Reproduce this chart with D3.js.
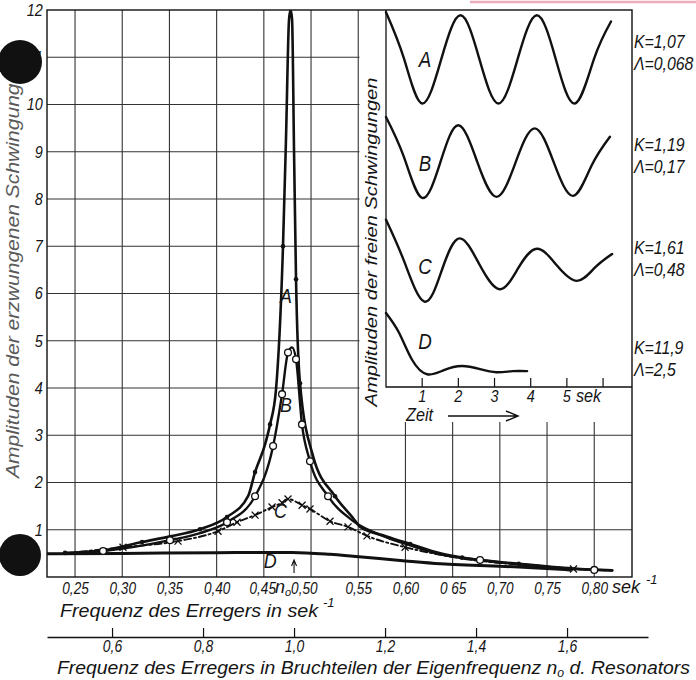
<!DOCTYPE html>
<html>
<head>
<meta charset="utf-8">
<script src="https://cdn.jsdelivr.net/npm/d3@7"></script>
<style>
  body { margin: 0; background: #fff; }
  svg text { font-family: "Liberation Sans", Arial, sans-serif; font-style: italic; fill: #151515; }
</style>
</head>
<body>
<svg></svg>
<script>
// forced oscillations: frequency of the exciter (sek^-1) vs amplitude
const curveA = [
  [0.2394, 0.51], [0.2797, 0.56], [0.321, 0.74], [0.3506, 0.86], [0.3824, 1.01], [0.411, 1.27],
  [0.4333, 1.71], [0.4407, 2.22], [0.4512, 2.8], [0.4566, 3.23], [0.4629, 3.97], [0.4703, 7.0],
  [0.4735, 9.3], [0.4767, 11.8], [0.4783, 12.0], [0.4799, 11.8], [0.482, 9.0], [0.4841, 6.3],
  [0.4883, 4.1], [0.5021, 2.56], [0.5254, 1.71], [0.5445, 1.25], [0.552, 1.06], [0.58, 0.86],
  [0.605, 0.70], [0.637, 0.50], [0.66, 0.41], [0.72, 0.28], [0.778, 0.18], [0.819, 0.14]
]
const dotsA = [0.2394, 0.321, 0.3824, 0.411, 0.4407, 0.4566, 0.4703, 0.4841, 0.4883, 0.5254, 0.605, 0.66, 0.72]

const curveB = [
  [0.2394, 0.50], [0.2797, 0.55], [0.3506, 0.78], [0.3824, 0.93], [0.411, 1.16], [0.4407, 1.71],
  [0.4598, 2.77], [0.4693, 3.87], [0.4756, 4.75], [0.4799, 4.86], [0.4841, 4.61], [0.4904, 3.23],
  [0.4989, 2.45], [0.518, 1.71], [0.545, 1.18], [0.58, 0.84], [0.605, 0.67], [0.637, 0.48],
  [0.679, 0.36], [0.72, 0.27], [0.80, 0.15], [0.819, 0.14]
]
const circlesB = [0.2797, 0.3506, 0.411, 0.4407, 0.4598, 0.4693, 0.4756, 0.4841, 0.4904, 0.4989, 0.518, 0.679, 0.80]

const curveC = [
  [0.2394, 0.50], [0.3008, 0.63], [0.3591, 0.76], [0.4015, 0.97], [0.4216, 1.16], [0.4407, 1.31],
  [0.4587, 1.48], [0.4693, 1.57], [0.4756, 1.65], [0.4905, 1.52], [0.4989, 1.44], [0.5201, 1.18],
  [0.5392, 1.06], [0.5593, 0.87], [0.5996, 0.63], [0.637, 0.47], [0.66, 0.39], [0.72, 0.26],
  [0.778, 0.17], [0.819, 0.14]
]
const crossesC = [0.3008, 0.3591, 0.4015, 0.4216, 0.4407, 0.4587, 0.4693, 0.4756, 0.4905, 0.4989,
  0.5201, 0.5392, 0.5593, 0.5996, 0.778]

const curveD = [
  [0.2203, 0.49], [0.30, 0.50], [0.40, 0.515], [0.45, 0.52], [0.48, 0.52], [0.52, 0.48],
  [0.5445, 0.44], [0.60, 0.34], [0.637, 0.28], [0.72, 0.21], [0.774, 0.15]
]

// free oscillations in the inset: time (sek) vs trace position
const freeA = [[0, 3.95], [0.5, 3.5], [1.0, 3.07], [1.53, 3.5], [2.06, 3.92], [2.58, 3.5], [3.11, 3.07],
  [3.64, 3.5], [4.17, 3.92], [4.69, 3.5], [5.22, 3.07], [5.75, 3.5], [6.22, 3.86]]
const freeB = [[0, 2.94], [0.5, 2.55], [1.0, 2.16], [1.5, 2.5], [2.0, 2.86], [2.53, 2.5], [3.06, 2.17],
  [3.58, 2.5], [4.11, 2.83], [4.64, 2.5], [5.17, 2.18], [5.68, 2.47], [6.19, 2.75]]
const freeC = [[0, 1.95], [0.5, 1.55], [1.06, 1.16], [1.55, 1.47], [2.03, 1.77], [2.58, 1.52], [3.14, 1.28],
  [3.65, 1.48], [4.17, 1.67], [4.72, 1.51], [5.28, 1.36], [5.78, 1.49], [6.25, 1.62]]
const freeD = [[0, 1.05], [0.36, 0.86], [0.72, 0.6], [1.14, 0.46], [1.6, 0.5], [2.1, 0.54], [2.6, 0.51],
  [3.05, 0.48], [3.5, 0.49], [3.9, 0.49]]

const traceNames = ['A', 'B', 'C', 'D']
const traceLabelPos = [3.5, 2.5, 1.5, 0.78]
const dampK = ['1,07', '1,19', '1,61', '11,9']
const dampL = ['0,068', '0,17', '0,48', '2,5']
const dampPos = [3.55, 2.55, 1.56, 0.6]

const freqTicks = [0.25, 0.30, 0.35, 0.40, 0.45, 0.50, 0.55, 0.60, 0.65, 0.70, 0.75, 0.80]
const ampTicks = [1, 2, 3, 4, 5, 6, 7, 8, 9, 10, 11, 12]
const ratioTicks = [0.6, 0.8, 1.0, 1.2, 1.4, 1.6]
const timeTicks = [1, 2, 3, 4, 5, 6]
const n0 = 0.482

const locale = d3.formatLocale({ decimal: ',', thousands: '.', grouping: [3], currency: ['', ''] })

const svg = d3.select('svg').attr('width', 696).attr('height', 680)

const plot = { left: 47, right: 632, top: 10, bottom: 577 }
const x = d3.scaleLinear().domain([0.2203, 0.840]).range([plot.left, plot.right])
const y = d3.scaleLinear().domain([0, 12]).range([plot.bottom, plot.top])
const x2 = d3.scaleLinear().domain([x.invert(47) / n0, x.invert(648) / n0]).range([47, 648])

const inset = { left: 386, right: 632, top: 10, bottom: 387 }
const xt = d3.scaleLinear().domain([0, 6.8]).range([inset.left, inset.right])
const yt = d3.scaleLinear().domain([0, 4]).range([422, 7])

// narrow italic type like the print
function squeeze(sel, sx) {
  sel.each(function () {
    const t = d3.select(this)
    const tx = +t.attr('x') || 0
    const ty = +t.attr('y') || 0
    t.attr('x', 0).attr('y', 0).attr('transform', `translate(${tx},${ty}) scale(${sx},1)`)
  })
}

// scan mark at the top
svg.append('line').attr('x1', 470).attr('x2', 696).attr('y1', 2).attr('y2', 2)
  .attr('stroke', '#e58aa2').attr('stroke-width', 2.5).attr('opacity', 0.7)

// grid
const grid = svg.append('g').attr('stroke', '#333').attr('stroke-width', 1.1)
grid.selectAll('.vx').data(freqTicks).join('line')
  .attr('x1', d => x(d)).attr('x2', d => x(d))
  .attr('y1', plot.top).attr('y2', plot.bottom)
grid.selectAll('.hy').data(ampTicks.slice(0, 11)).join('line')
  .attr('x1', plot.left).attr('x2', plot.right)
  .attr('y1', d => y(d)).attr('y2', d => y(d))

// inset panel covers the grid
svg.append('rect').attr('x', 359.5).attr('y', plot.top).attr('width', plot.right - 359.5).attr('height', 412)
  .attr('fill', '#fff')

// frame
svg.append('rect').attr('x', plot.left).attr('y', plot.top)
  .attr('width', plot.right - plot.left).attr('height', plot.bottom - plot.top)
  .attr('fill', 'none').attr('stroke', '#111').attr('stroke-width', 1.4)

// main x axis (sek^-1)
const fmt2 = locale.format('.2f')
const xAxis = svg.append('g').attr('transform', `translate(0,${plot.bottom})`)
  .call(d3.axisBottom(x).tickValues(freqTicks).tickSize(0).tickPadding(5).tickFormat(fmt2))
xAxis.select('.domain').remove()
xAxis.selectAll('text').attr('font-size', 17).attr('font-family', null).attr('fill', null)
  .attr('dx', d => d === 0.45 ? '-2' : d === 0.50 ? '-9' : '0')
  .text(d => d === 0.65 ? '0 65' : fmt2(d))
  .attr('transform', 'scale(0.8,1)')

svg.append('text').attr('x', 283).attr('y', 593).attr('font-size', 18).attr('text-anchor', 'middle')
  .text('n').append('tspan').attr('font-size', 11).attr('dy', 3).text('o')
svg.append('text').attr('x', 612).attr('y', 593).attr('font-size', 18).text('sek')
svg.append('text').attr('x', 646).attr('y', 584).attr('font-size', 13).text('-1')

svg.append('text').attr('x', 60).attr('y', 617).attr('font-size', 19)
  .attr('textLength', 258).attr('lengthAdjust', 'spacingAndGlyphs')
  .text('Frequenz des Erregers in sek')
svg.append('text').attr('x', 323).attr('y', 607).attr('font-size', 13).text('-1')

// second axis: fraction of the natural frequency n0
const x2Axis = svg.append('g').attr('transform', 'translate(0,637)')
  .call(d3.axisBottom(x2).tickValues(ratioTicks).tickSizeInner(-9).tickSizeOuter(0).tickPadding(3)
    .tickFormat(locale.format('.1f')))
x2Axis.select('.domain').attr('stroke', '#111').attr('stroke-width', 1.3)
x2Axis.selectAll('line').attr('stroke', '#111').attr('stroke-width', 1.2)
x2Axis.selectAll('text').attr('font-size', 17).attr('font-family', null).attr('fill', null)
  .attr('transform', 'scale(0.82,1)')

const title2 = svg.append('text').attr('x', 57).attr('y', 674).attr('font-size', 19)
  .attr('textLength', 633).attr('lengthAdjust', 'spacingAndGlyphs')
title2.append('tspan').text('Frequenz des Erregers in Bruchteilen der Eigenfrequenz n')
title2.append('tspan').attr('font-size', 12).attr('dy', 3).text('o')
title2.append('tspan').attr('dy', -3).text(' d. Resonators')

// y axis
const yAxis = svg.append('g').attr('transform', `translate(${plot.left},0)`)
  .call(d3.axisLeft(y).tickValues(ampTicks).tickSize(0).tickPadding(5).tickFormat(d => d))
yAxis.select('.domain').remove()
yAxis.selectAll('text').attr('font-size', 17).attr('font-family', null).attr('fill', '#4a4a4a')
  .attr('transform', 'scale(0.85,1)')

svg.append('text').attr('font-size', 18).style('fill', '#5a5a5a')
  .attr('text-anchor', 'middle').attr('textLength', 418).attr('lengthAdjust', 'spacingAndGlyphs')
  .attr('transform', 'translate(19,269) rotate(-90)')
  .text('Amplituden der erzwungenen Schwingungen')

// resonance curves
const line = d3.line().x(d => x(d[0])).y(d => y(d[1])).curve(d3.curveMonotoneX)
svg.append('clipPath').attr('id', 'clip').append('rect')
  .attr('x', plot.left).attr('y', plot.top).attr('width', plot.right - plot.left).attr('height', plot.bottom - plot.top)
const curves = svg.append('g').attr('clip-path', 'url(#clip)').attr('fill', 'none').attr('stroke', '#111')
  .attr('stroke-linejoin', 'round').attr('stroke-linecap', 'round')

curves.append('path').datum(curveD).attr('d', line).attr('stroke-width', 3)
curves.append('path').datum(curveC).attr('d', line).attr('stroke-width', 1.9).attr('stroke-dasharray', '7,3,2,3')
curves.append('path').datum(curveB).attr('d', line).attr('stroke-width', 2.4)
curves.append('path').datum(curveA).attr('d', line).attr('stroke-width', 2.6)

const findPt = (arr, f) => arr.find(p => p[0] === f)

svg.append('g').selectAll('circle').data(dotsA.map(f => findPt(curveA, f))).join('circle')
  .attr('cx', d => x(d[0])).attr('cy', d => y(d[1])).attr('r', 2.3).attr('fill', '#111')
svg.append('g').selectAll('circle').data(circlesB.map(f => findPt(curveB, f))).join('circle')
  .attr('cx', d => x(d[0])).attr('cy', d => y(d[1])).attr('r', 3.4)
  .attr('fill', '#fff').attr('stroke', '#111').attr('stroke-width', 1.3)
svg.append('g').attr('stroke', '#111').attr('stroke-width', 1.3)
  .selectAll('path').data(crossesC.map(f => findPt(curveC, f))).join('path')
  .attr('d', d => {
    const cx = x(d[0]), cy = y(d[1]), s = 3.5
    return `M${cx - s},${cy - s}L${cx + s},${cy + s}M${cx - s},${cy + s}L${cx + s},${cy - s}`
  })

// curve letters
const curveLabels = [['A', 0.4735, 5.8], ['B', 0.4735, 3.5], ['C', 0.4675, 1.25], ['D', 0.4566, 0.18]]
svg.append('g').selectAll('text').data(curveLabels).join('text')
  .attr('x', d => x(d[1])).attr('y', d => y(d[2]))
  .attr('font-size', 21).attr('text-anchor', 'middle')
  .text(d => d[0])
  .call(squeeze, 0.85)

// n0 arrow
svg.append('path').attr('d', `M${x(n0)},573L${x(n0)},561M${x(n0) - 2.5},566L${x(n0)},560L${x(n0) + 2.5},566`)
  .attr('stroke', '#111').attr('fill', 'none').attr('stroke-width', 1.1)

// inset: free oscillations
const ins = svg.append('g')
ins.append('path')
  .attr('d', `M${inset.left},${inset.top}L${inset.left},${inset.bottom}L${inset.right},${inset.bottom}`)
  .attr('fill', 'none').attr('stroke', '#111').attr('stroke-width', 1.3)
ins.selectAll('.tk').data(timeTicks).join('line')
  .attr('x1', d => xt(d)).attr('x2', d => xt(d)).attr('y1', inset.bottom).attr('y2', inset.bottom - 9)
  .attr('stroke', '#111').attr('stroke-width', 1.2)
ins.selectAll('.tl').data(timeTicks.slice(0, 5)).join('text')
  .attr('x', d => xt(d)).attr('y', 402).attr('font-size', 17).attr('text-anchor', 'middle')
  .text(d => d)
  .call(squeeze, 0.85)
ins.append('text').attr('x', 576).attr('y', 402).attr('font-size', 18).text('sek').call(squeeze, 0.9)
ins.append('text').attr('x', 406).attr('y', 421).attr('font-size', 18).text('Zeit').call(squeeze, 0.9)
ins.append('path').attr('d', 'M448,416L518,416M506,411L518,416L506,421')
  .attr('fill', 'none').attr('stroke', '#111').attr('stroke-width', 1.4)

ins.append('text').attr('font-size', 17).attr('text-anchor', 'middle')
  .attr('textLength', 329).attr('lengthAdjust', 'spacingAndGlyphs')
  .attr('transform', 'translate(377,242) rotate(-90)')
  .text('Amplituden der freien Schwingungen')

const tline = d3.line().x(d => xt(d[0])).y(d => yt(d[1])).curve(d3.curveNatural)
ins.selectAll('.trace').data([freeA, freeB, freeC, freeD]).join('path')
  .attr('d', tline).attr('fill', 'none').attr('stroke', '#111').attr('stroke-width', 2.4)
  .attr('stroke-linecap', 'round')

ins.selectAll('.tn').data(traceNames).join('text')
  .attr('x', 425).attr('y', (d, i) => yt(traceLabelPos[i]) + 8)
  .attr('font-size', 22).attr('text-anchor', 'middle').text(d => d)
  .call(squeeze, 0.85)

ins.selectAll('.kk').data(dampK).join('text')
  .attr('x', 634).attr('y', (d, i) => yt(dampPos[i]) - 6)
  .attr('font-size', 18).text(d => 'K=' + d)
  .call(squeeze, 0.88)
ins.selectAll('.ll').data(dampL).join('text')
  .attr('x', 634).attr('y', (d, i) => yt(dampPos[i]) + 16)
  .attr('font-size', 18).text(d => 'Λ=' + d)
  .call(squeeze, 0.88)

// punched holes of the scanned page
svg.append('circle').attr('cx', 20).attr('cy', 62).attr('r', 22).attr('fill', '#111')
svg.append('circle').attr('cx', 20).attr('cy', 555).attr('r', 21).attr('fill', '#111')
</script>
</body>
</html>
